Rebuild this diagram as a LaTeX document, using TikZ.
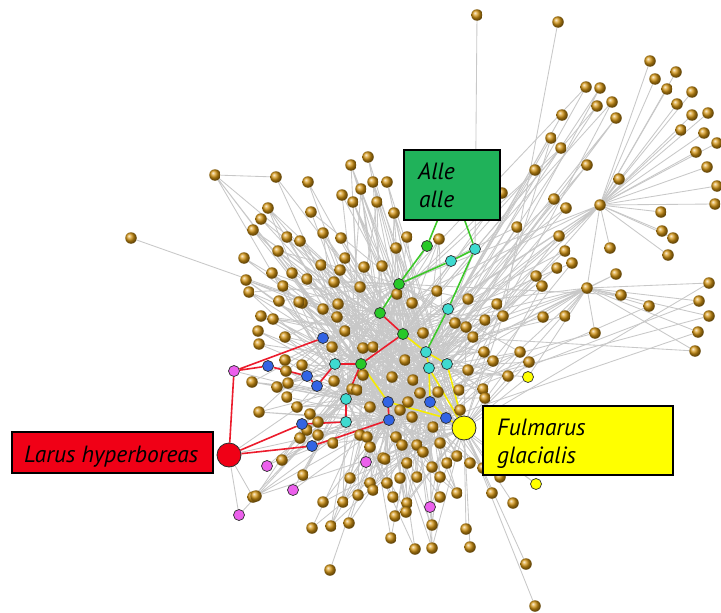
\documentclass[tikz,border=0pt]{standalone}
\usepackage{fontspec}
\setmainfont{PT Sans}
\pgfdeclarelayer{bg}
\pgfdeclarelayer{mid}
\pgfdeclarelayer{top}
\pgfsetlayers{bg,mid,main,top}
\definecolor{gedgec}{RGB}{200,200,200}
\definecolor{brownc}{RGB}{214,150,18}
\definecolor{redbox}{RGB}{240,0,22}
\definecolor{greenbox}{RGB}{32,178,90}
\definecolor{yellowc}{RGB}{255,255,0}
\definecolor{bluec}{RGB}{50,100,228}
\definecolor{cyanc}{RGB}{62,218,208}
\definecolor{greenc}{RGB}{40,200,40}
\definecolor{magc}{RGB}{236,96,236}
\definecolor{redline}{RGB}{236,28,44}
\definecolor{yline}{RGB}{246,236,0}
\definecolor{gline}{RGB}{60,200,40}
\definecolor{rimc}{RGB}{45,45,45}
\def\Gen{368/157,351/165,308/182,373/182,387/182,361/189,342/195,353/202,377/202,394/213,311/212,323/233,341/238,300/241,407/237,396/248,345/258,321/265,340/270,364/267,382/266,307/279,334/282,360/287,397/294,412/303,302/303,323/309,338/304,337/317,345/331,439/239,437/291,423/333,468/299,268/208,261/219,253/230,287/237,278/251,244/258,272/273,292/273,246/280,283/286,249/292,279/301,299/302,261/316,273/319,258/331,285/337,259/344,332/347,363/348,373/347,285/360,302/365,286/371,252/382,277/387,288/383,334/381,352/389,363/375,392/377,405/360,413/380,455/323,466/327,473/337,485/320,497/304,484/352,493/361,520/352,529/362,468/370,508/376,483/389,485/398,259/412,287/397,297/407,310/414,318/422,357/390,370/407,400/410,408/402,420/393,412/417,433/427,438/392,459/390,460/410,300/438,307/430,318/435,333/443,360/435,367/437,370/447,396/437,402/445,417/445,440/443,282/460,383/458,407/463,423/452,432/467,447/463,457/456,470/463,483/468,303/475,350/478,370/483,387/483,400/478,417/477,440/477,256/496,323/502,343/502,358/495,373/490,393/497,407/503,440/497,457/493,312/528,331/526,349/523,385/459,395/516,406/512,391/538,432/525,415/549,432/548}
\def\LeafY{526/564,535/606,470/547,466/529,513/503,492/493,500/477}
\def\Rone{650/61,676/72,655/79,667/89,692/92,677/104,692/115,708/113,681/130,704/133,717/143,696/152,707/167,717/186,715/204,661/212,662/231,673/238,668/255,610/248,619/179}
\def\Rmid{586/87,600/88,597/106,612/102,616/118,562/115,551/138,561/148,587/165,535/170,554/199,566/208,517/227,559/236,565/251,572/263,557/268,536/276,542/286,502/193}
\def\Rtwo{709/283,699/301,709/316,698/332,695/351,649/306,621/295,616/274,595/333,565/316,543/317}
\begin{document}
\begin{tikzpicture}[x=1pt,y=-1pt,
  ball/.style={circle,inner sep=0pt,minimum size=11.5pt,shading=ball,ball color=brownc},
  cn/.style={circle,inner sep=0pt,minimum size=11pt,draw=rimc,line width=0.7pt},
  bign/.style={circle,inner sep=0pt,minimum size=24pt,draw=rimc,line width=0.8pt},
  gedge/.style={draw=gedgec,line width=0.85pt},
  rl/.style={draw=redline,line width=1.6pt},
  yl/.style={draw=yline,line width=1.6pt},
  gl/.style={draw=gline,line width=1.6pt},
  boxst/.style={draw=black,line width=1.6pt,inner sep=0pt},
  lbl/.style={inner sep=0pt,font=\fontsize{23.5}{27}\selectfont\itshape}]
\begin{pgfonlayer}{bg}
\fill[white] (0,0) rectangle (721,613);
\end{pgfonlayer}
\useasboundingbox (0,0) rectangle (721,613);
% coloured nodes
\begin{pgfonlayer}{top}
\node[cn,fill=greenc] (gA) at (427,246) {};
\node[cn,fill=greenc,alias=c12] (gB) at (399,284) {};
\node[cn,fill=greenc,alias=c1] (gC) at (380,313) {};
\node[cn,fill=greenc,alias=c2] (gD) at (403,334) {};
\node[cn,fill=greenc,alias=c3] (gE) at (361,364) {};
\node[cn,fill=cyanc] (cyA) at (475,249) {};
\node[cn,fill=cyanc] (cyB) at (451,261) {};
\node[cn,fill=cyanc] (cyC) at (448,309) {};
\node[cn,fill=cyanc,alias=c8] (cyD) at (426,352) {};
\node[cn,fill=cyanc,alias=c5] (cyE) at (429,368) {};
\node[cn,fill=cyanc] (cyF) at (447,364) {};
\node[cn,fill=cyanc] (cyG) at (335,364) {};
\node[cn,fill=cyanc,alias=c10] (cyH) at (346,399) {};
\node[cn,fill=cyanc] (cyI) at (346,422) {};
\node[cn,fill=bluec] (blA) at (323,338) {};
\node[cn,fill=bluec] (blB) at (268,366) {};
\node[cn,fill=bluec] (blC) at (307,376) {};
\node[cn,fill=bluec] (blD) at (317,386) {};
\node[cn,fill=bluec,alias=c4] (blE) at (388,402) {};
\node[cn,fill=bluec,alias=c7] (blF) at (430,402) {};
\node[cn,fill=bluec,alias=c9] (blG) at (446,418) {};
\node[cn,fill=bluec,alias=c11] (blH) at (389,420) {};
\node[cn,fill=bluec] (blI) at (302,424) {};
\node[cn,fill=bluec] (blJ) at (312,446) {};
\node[cn,fill=magc] (mA) at (234,371) {};
\node[cn,fill=magc] (mB) at (267,466) {};
\node[cn,fill=magc] (mC) at (366,462) {};
\node[cn,fill=magc] (mD) at (293,490) {};
\node[cn,fill=magc] (mE) at (430,507) {};
\node[cn,fill=magc] (mF) at (239,515) {};
\node[cn,fill=yellowc] (yA) at (528,377) {};
\node[cn,fill=yellowc] (yB) at (536,484) {};
\node[bign,fill=yellowc,alias=c6] (Y) at (464,428) {};
\node[bign,fill=redbox] (R) at (229,455) {};
% labels
\node[boxst,fill=redbox,minimum width=201pt,minimum height=41pt] (larus) at (112.5,452.5) {};
\node[lbl,anchor=base west] (larusT) at (24,462) {Larus hyperboreas};
\node[boxst,fill=greenbox,minimum width=96pt,minimum height=70pt] (alle) at (452,185) {};
\node[lbl,anchor=base west] (alleT1) at (418,179) {Alle};
\node[lbl,anchor=base west] (alleT2) at (419,207) {alle};
\node[boxst,fill=yellowc,minimum width=190pt,minimum height=69pt] (fulm) at (578,440.5) {};
\node[lbl,anchor=base west] (fulmT1) at (497,435) {Fulmarus};
\node[lbl,anchor=base west] (fulmT2) at (497,463) {glacialis};
\end{pgfonlayer}
% coloured connectors
\begin{pgfonlayer}{mid}
\draw[gl] (alle) -- (gA) (alle) -- (cyA) (gA) -- (gB) (gB) -- (cyB) (cyB) -- (cyA)
  (gB) -- (gC) (cyA) -- (cyC) (cyC) -- (cyD);
\draw[rl] (gC)--(gD) (gD)--(gE) (gE)--(cyG) (gE)--(cyH) (cyG)--(blD) (blD)--(blC)
  (blC)--(blB) (blB)--(mA) (mA)--(blA) (mA)--(R) (cyH)--(cyI) (cyI)--(blI)
  (blI)--(R) (R)--(blJ) (blJ)--(blH) (blH)--(blE);
\draw[yl] (gD)--(cyD) (cyD)--(cyF) (cyD)--(cyE) (cyE)--(blF) (cyE)--(Y) (cyF)--(Y)
  (gE)--(blE) (blE)--(blG) (blF)--(blG) (blG)--(Y);
\end{pgfonlayer}
% hubs and special brown nodes
\node[ball] (hA) at (600,205) {};
\node[ball] (hB) at (587,288) {};
\node[ball] (lone) at (131,238) {};
\node[ball] (lt) at (215,175) {};
\node[ball] (lt2) at (276,177) {};
\node[ball] (top1) at (477,15) {};
\node[ball] (top2) at (558,22) {};
\node[ball] (rn) at (503,316) {};
\node[ball] (bl1) at (330,570) {};
\node[ball] (bl2) at (253,497) {};
\begin{pgfonlayer}{bg}
\draw[gedge] (hA)--(hB) (hA)--(c1) (hA)--(c2) (hA)--(c8) (hA)--(c12) (hA)--(c5) (hA)--(rn)
  (hA)--(c3) (hA)--(c10) (hB)--(c1) (hB)--(c3)
  (hB)--(c2) (hB)--(c5) (hB)--(c6) (hB)--(c9) (hB)--(c4) (hB)--(c8) (hB)--(yA)
  (lone)--(c2) (lt)--(lt2) (lt)--(c1) (lt)--(c10) (lt)--(c3) (lt)--(c4)
  (lt2)--(c1) (lt2)--(c3) (top1)--(cyA) (top2)--(rn) (rn)--(c6) (rn)--(c1)
  (bl1)--(c4) (bl2)--(R) (bl2)--(c10) (mF)--(R) (mF)--(c10)
  (mB)--(c10) (mB)--(c4) (mC)--(c4) (mC)--(c6) (mD)--(c3) (mD)--(c11)
  (mE)--(c6) (mE)--(c9) (yA)--(c6) (yA)--(c5) (yB)--(c6) (yB)--(c9)
  (R)--(c11) (R)--(c3) (mA)--(c10) (blA)--(c2) (blB)--(c4)
  (cyA)--(c5) (cyB)--(c2) (gA)--(c3) (cyC)--(c4) (cyF)--(c1);
\end{pgfonlayer}
\foreach \x/\y [count=\i] in \Gen {
  \node[ball] (g\i) at (\x,\y) {};
  \pgfmathtruncatemacro\ha{mod(\i,12)+1}
  \pgfmathtruncatemacro\hb{mod(5*\i+3,12)+1}
  \pgfmathtruncatemacro\hc{mod(7*\i+6,12)+1}
  \pgfmathtruncatemacro\hd{mod(11*\i+9,12)+1}
  \begin{pgfonlayer}{bg}
  \draw[gedge] (g\i) -- (c\ha) (g\i) -- (c\hb) (g\i) -- (c\hc) (g\i) -- (c\hd);
  \end{pgfonlayer}
}
\foreach \x/\y [count=\i] in \LeafY {
  \node[ball] (ly\i) at (\x,\y) {};
  \begin{pgfonlayer}{bg}\draw[gedge] (ly\i) -- (c6);\end{pgfonlayer}
}
\foreach \x/\y [count=\i] in \Rone {
  \node[ball] (ra\i) at (\x,\y) {};
  \begin{pgfonlayer}{bg}\draw[gedge] (ra\i) -- (hA);\end{pgfonlayer}
}
\foreach \x/\y [count=\i] in \Rmid {
  \node[ball] (rm\i) at (\x,\y) {};
  \pgfmathtruncatemacro\ha{mod(3*\i+1,12)+1}
  \pgfmathtruncatemacro\hb{mod(7*\i+4,12)+1}
  \begin{pgfonlayer}{bg}\draw[gedge] (rm\i) -- (c\ha) (rm\i) -- (c\hb);\end{pgfonlayer}
}
\foreach \x/\y [count=\i] in \Rtwo {
  \node[ball] (rb\i) at (\x,\y) {};
  \pgfmathtruncatemacro\ha{mod(5*\i,12)+1}
  \begin{pgfonlayer}{bg}\draw[gedge] (rb\i) -- (hB) (rb\i) -- (c\ha);\end{pgfonlayer}
}
\end{tikzpicture}
\end{document}
